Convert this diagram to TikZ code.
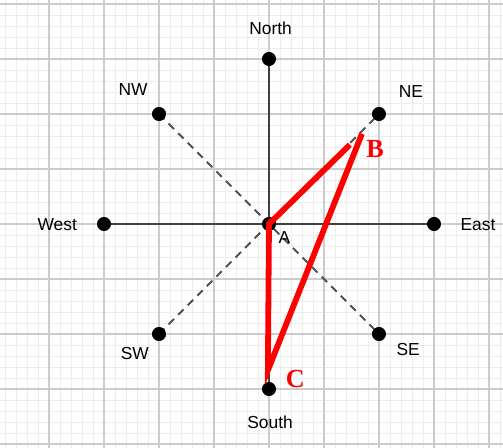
\documentclass[tikz,border=0pt]{standalone}
\usepackage{fontspec}
\setmainfont{Liberation Serif}
\setsansfont{Liberation Sans}
\definecolor{minorgray}{HTML}{EDEDED}
\definecolor{majorgray}{HTML}{CCCCCC}
\definecolor{axisgray}{HTML}{404040}
\definecolor{diaggray}{HTML}{505050}
\tikzset{
    dot/.style={circle, fill=black, inner sep=0pt, minimum size=0.25cm},
    dirlabel/.style={font=\sffamily\fontsize{9}{10}\selectfont, text=black},
    ptlabel/.style={font=\rmfamily\bfseries\fontsize{13.5}{15}\selectfont, text=red},
    axis/.style={axisgray, line width=1pt},
    diag/.style={diaggray, line width=1pt, dash pattern=on 4pt off 3pt},
    route/.style={red, line width=3pt, line join=miter}
}
\begin{document}
\begin{tikzpicture}[x=1cm,y=1cm]
    \useasboundingbox (-4.891,-4.055) rectangle (4.255,4.073);
    \clip (-4.891,-4.055) rectangle (4.255,4.073);

    % Grid
    \draw[minorgray, line width=0.4pt, step=0.2] (-5,-5) grid (5,5);
    \draw[majorgray, line width=0.6pt, step=1] (-5,-5) grid (5,5);

    % Compass points
    \node[dot] (A) at (0,0) {};
    \node[dot] (N) at (0,3) {};
    \node[dot] (S) at (0,-3) {};
    \node[dot] (E) at (3,0) {};
    \node[dot] (W) at (-3,0) {};
    \node[dot] (NE) at (2,2) {};
    \node[dot] (NW) at (-2,2) {};
    \node[dot] (SE) at (2,-2) {};
    \node[dot] (SW) at (-2,-2) {};

    % Axes and diagonals
    \draw[axis] (W.center) -- (E.center);
    \draw[axis] (N.center) -- (S.center);
    \draw[diag] (NW.center) -- (SE.center);
    \draw[diag] (SW.center) -- (NE.center);

    % Dots again on top
    \foreach \p in {A,N,S,E,W,NE,NW,SE,SW}
        \fill (\p) circle (0.125);

    % Direction labels
    \node[dirlabel] (lN) at (0.03,3.56) {North};
    \node[dirlabel] (lS) at (0.02,-3.6) {South};
    \node[dirlabel] (lE) at (3.8,-0.02) {East};
    \node[dirlabel] (lW) at (-3.85,-0.02) {West};
    \node[dirlabel] (lNE) at (2.58,2.4) {NE};
    \node[dirlabel] (lNW) at (-2.47,2.44) {NW};
    \node[dirlabel] (lSE) at (2.53,-2.29) {SE};
    \node[dirlabel] (lSW) at (-2.44,-2.36) {SW};
    \node[dirlabel] (lA) at (0.28,-0.24) {A};

    % Route A - B - C
    \coordinate (B1) at (1.47,1.44);
    \coordinate (B2) at (1.69,1.64);
    \coordinate (C) at (-0.02,-2.66);
    \draw[route] (B1) -- (A.center) -- (C) -- (B2);
    \node[ptlabel] (lB) at (1.93,1.36) {B};
    \node[ptlabel] (lC) at (0.48,-2.82) {C};
\end{tikzpicture}
\end{document}
